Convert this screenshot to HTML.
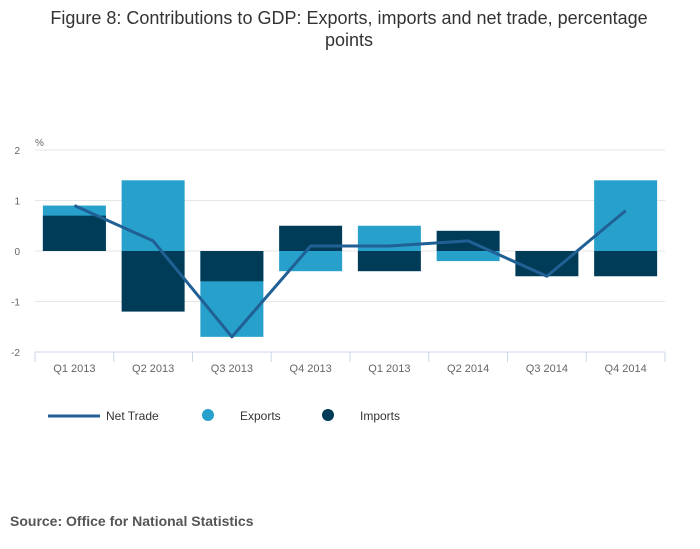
<!DOCTYPE html>
<html><head><meta charset="utf-8"><style>
body{margin:0;background:#fff;font-family:"Liberation Sans",sans-serif;}
svg{display:block}
</style></head><body>
<svg width="700" height="549">
<text x="349" y="24" text-anchor="middle" font-size="18" fill="#333">Figure 8: Contributions to GDP: Exports, imports and net trade, percentage</text>
<text x="349" y="46" text-anchor="middle" font-size="18" fill="#333">points</text>
<text x="35" y="146" font-size="10" fill="#666">%</text>
<g id="grid"></g><g id="bars"></g><g id="line"></g><g id="xaxis"></g>
<g>
<line x1="48" y1="416" x2="100" y2="416" stroke="#206095" stroke-width="3"/>
<text x="106" y="420" font-size="12" fill="#333">Net Trade</text>
<circle cx="208" cy="415" r="6" fill="#27a0cc"/>
<text x="240" y="420" font-size="12" fill="#333">Exports</text>
<circle cx="328" cy="415" r="6" fill="#003c57"/>
<text x="360" y="420" font-size="12" fill="#333">Imports</text>
</g>
<text x="10" y="526" font-size="14" font-weight="bold" fill="#555">Source: Office for National Statistics</text>
</svg>
<script>
const categories=["Q1 2013","Q2 2013","Q3 2013","Q4 2013","Q1 2013","Q2 2014","Q3 2014","Q4 2014"];
const exportsVals=[0.9,1.4,-1.7,-0.4,0.5,-0.2,0,1.4];
const importsVals=[0.7,-1.2,-0.6,0.5,-0.4,0.4,-0.5,-0.5];
const netTrade=[0.9,0.2,-1.7,0.1,0.1,0.2,-0.5,0.8];
const yTicks=[2,1,0,-1,-2];
const NS="http://www.w3.org/2000/svg";
const L=35,R=665,T=150,B=352,yMin=-2,yMax=2;
const bw=(R-L)/categories.length;
const y=v=>T+(yMax-v)/(yMax-yMin)*(B-T);
const x=i=>L+bw*(i+0.5);
function mk(tag,attrs,parent){const e=document.createElementNS(NS,tag);for(const k in attrs)e.setAttribute(k,attrs[k]);document.getElementById(parent).appendChild(e);return e;}
yTicks.forEach(t=>{
 const g=mk("line",{x1:L,x2:R,y1:y(t),y2:y(t),stroke:"#e6e6e6","stroke-width":1},"grid");
 
 
 const tx=mk("text",{x:20,y:y(t)+4,"font-size":10,fill:"#666","text-anchor":"end"},"grid");
 tx.textContent=t;
 
 
});
function bar(v,i,color,name){
 const y0=y(0),y1=y(v);
 const r=mk("rect",{x:x(i)-31.5,width:63,y:Math.min(y0,y1),height:Math.abs(y1-y0),fill:color},"bars");
 
 
}
exportsVals.forEach((v,i)=>bar(v,i,"#27a0cc","exports-bar"));
importsVals.forEach((v,i)=>bar(v,i,"#003c57","imports-bar"));
const p=mk("polyline",{points:netTrade.map((v,i)=>x(i)+","+y(v)).join(" "),fill:"none",stroke:"#206095","stroke-width":3,"stroke-linejoin":"round"},"line");


const ax=mk("line",{x1:L,x2:R,y1:B,y2:B,stroke:"#ccd6eb"},"xaxis");


for(let i=0;i<=categories.length;i++){
 const tk=mk("line",{x1:L+bw*i,x2:L+bw*i,y1:B,y2:B+10,stroke:"#ccd6eb"},"xaxis");
 
 
}
categories.forEach((c,i)=>{
 const t=mk("text",{x:x(i),y:B+20,"font-size":11,fill:"#666","text-anchor":"middle"},"xaxis");
 t.textContent=c;
 
 
});
</script>
</body></html>
